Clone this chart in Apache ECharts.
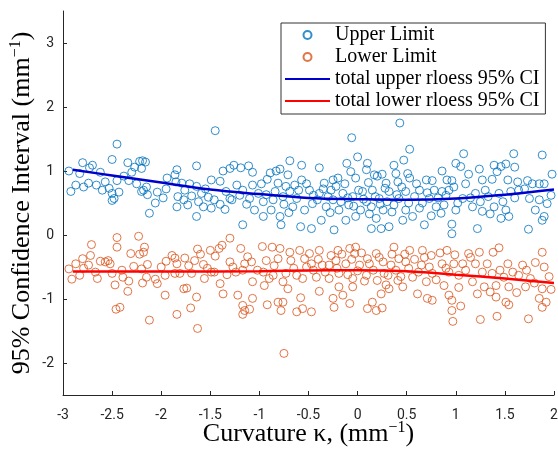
<!DOCTYPE html>
<html>
<head>
<meta charset="utf-8">
<script src="https://cdn.jsdelivr.net/npm/echarts@6/dist/echarts.min.js"></script>
<style>html,body{margin:0;padding:0;background:#fff}#c{width:558px;height:449px}</style>
</head>
<body>
<div id="c"></div>
<script>
// ---- data ----
const xTicks = [-3, -2.5, -2, -1.5, -1, -0.5, 0, 0.5, 1, 1.5, 2];
const yTicks = [-2, -1, 0, 1, 2, 3];

const upperLimit = [
  [-2.45,1.42],[-2.50,1.18],[-2.94,1.00],[-2.80,1.13],[-2.70,1.09],[-2.73,1.05],[-2.62,0.98],[-2.83,0.96],
  [-2.92,0.68],[-2.79,0.75],[-2.74,0.81],[-2.66,0.78],[-2.57,0.83],[-2.53,0.73],[-2.50,0.65],[-2.48,0.57],
  [-2.50,0.54],[-2.43,0.67],[-2.45,0.85],[-2.38,0.92],[-2.33,0.85],[-2.34,1.13],[-2.30,0.98],[-2.27,1.06],
  [-2.22,1.15],[-2.19,1.16],[-2.16,1.14],[-2.20,1.04],[-2.18,0.70],[-2.15,0.75],[-2.20,0.68],[-2.14,0.63],
  [-2.06,0.50],[-2.12,0.34],[-2.04,0.67],[-1.94,0.89],[-1.95,0.72],[-1.86,0.94],[-1.84,1.02],[-1.85,0.83],
  [-1.83,0.60],[-1.84,0.44],[-1.79,0.81],[-1.77,0.55],
  [-1.45,1.63],[-1.64,1.08],[-1.37,1.00],[-1.30,1.04],[-1.26,1.09],[-1.19,1.05],[-1.11,1.08],[-1.07,0.98],
  [-1.49,0.86],[-1.40,0.84],[-1.71,0.80],[-1.64,0.76],[-1.76,0.70],[-1.69,0.61],[-1.73,0.47],[-1.64,0.29],
  [-1.59,0.65],[-1.57,0.44],[-1.49,0.42],[-1.46,0.55],[-1.40,0.48],[-1.34,0.68],[-1.30,0.57],[-1.23,0.78],
  [-1.17,0.70],[-1.17,0.16],[-1.10,0.57],[-1.07,0.78],[-1.05,0.39],[-0.96,0.52],[-0.96,0.29],[-0.92,0.87],
  [-0.89,0.97],[-0.83,1.00],[-0.79,1.03],[-0.81,0.81],[-0.84,0.68],[-0.88,0.39],[-0.79,0.29],[-0.78,0.16],
  [-0.73,0.76],[-0.69,0.68],[-0.69,1.16],[-0.71,0.94],[-0.62,0.57],[-0.66,0.44],[-0.58,0.13],[-0.57,1.09],
  [-0.57,0.86],[-0.54,0.39],[-0.64,0.78],[-0.76,0.60],[-0.93,0.63],[-1.01,0.65],[-1.28,0.55],[-1.52,0.59],
  [0.43,1.75],[-0.06,1.52],[0.53,1.34],[0.00,1.22],[-0.11,1.12],[-0.39,1.05],[0.10,1.12],[0.09,1.02],
  [0.37,1.09],[0.47,1.17],[0.39,0.96],[0.51,0.96],[0.53,0.89],[0.17,0.94],[0.20,0.92],[0.25,0.95],
  [-0.07,0.99],[-0.02,0.89],[-0.20,0.89],[-0.25,0.86],[-0.34,0.81],[0.29,0.81],[0.41,0.83],[0.70,0.86],
  [-0.49,0.70],[-0.39,0.65],[-0.27,0.70],[-0.15,0.65],[0.05,0.68],[0.15,0.70],[0.32,0.68],[0.49,0.68],
  [0.63,0.70],[-0.46,0.49],[-0.32,0.44],[-0.19,0.39],[-0.09,0.47],[0.03,0.39],[0.14,0.44],[0.26,0.39],
  [0.37,0.47],[0.49,0.39],[0.63,0.42],[-0.47,0.10],[-0.24,0.08],[-0.37,0.23],[-0.12,0.23],[0.14,0.10],
  [0.24,0.10],[0.32,0.13],[0.46,0.23],[0.68,0.16],[-0.02,0.29],[0.19,0.26],[0.56,0.29],[-0.05,0.60],
  [-0.25,0.55],[0.22,0.57],[0.42,0.57],[0.73,0.57],[0.09,0.52],
  [1.08,1.27],[1.59,1.27],[1.88,1.25],[1.00,1.12],[1.05,1.07],[0.86,1.00],[1.13,0.95],[1.24,1.03],
  [1.39,1.09],[1.46,1.07],[1.51,1.11],[1.60,1.06],[1.42,0.99],[0.76,0.85],[0.91,0.86],[0.96,0.85],
  [1.27,0.86],[1.37,0.87],[1.53,0.86],[1.63,0.83],[1.73,0.85],[1.85,0.80],[1.90,0.80],[0.78,0.70],
  [0.86,0.68],[0.93,0.70],[1.07,0.57],[1.20,0.65],[1.30,0.70],[1.44,0.65],[1.56,0.68],[1.64,0.70],
  [1.75,0.57],[1.85,0.55],[1.93,0.49],[0.80,0.44],[0.88,0.47],[1.00,0.39],[1.17,0.44],[1.27,0.37],
  [1.39,0.44],[1.51,0.39],[1.54,0.29],[1.46,0.26],[1.35,0.33],[1.90,0.29],[1.88,0.23],[0.96,0.17],
  [0.96,0.02],[1.22,0.10],[1.74,0.09],[0.85,0.34],[1.81,0.39],
  [-0.45,0.62],[-0.41,0.55],[-0.35,0.72],[-0.30,0.60],[-0.28,0.35],[-0.22,0.76],[-0.17,0.52],[-0.13,0.80],
  [-0.10,0.58],[-0.04,0.45],[0.01,0.70],[0.06,0.56],[0.11,0.82],[0.12,0.33],[0.18,0.60],[0.23,0.48],
  [0.28,0.73],[0.30,0.52],[0.35,0.36],[0.40,0.63],[0.45,0.75],[0.52,0.50],[0.58,0.60],[0.60,0.80],
  [0.66,0.50],[0.71,0.66],[0.75,0.30],[0.82,0.58],[0.90,0.62],[0.98,0.75],[1.02,0.50],[1.10,0.80],
  [1.15,0.58],[1.25,0.52],[1.33,0.60],[1.48,0.52],[1.60,0.58],[1.70,0.72],[1.78,0.80],[1.97,0.62],
  [1.98,0.95],[-0.75,0.48],[-0.70,0.35],[-0.60,0.70],[-0.52,0.80],[-0.86,0.55],[-0.98,0.80],[-1.13,0.48],
  [-1.20,0.62],[-1.35,0.40],[-1.55,0.72],[-1.62,0.52],[-1.98,0.58],[-2.25,0.80],[-2.60,0.70],[-2.87,0.78]
];

const lowerLimit = [
  [-2.45,-0.04],[-2.23,-0.02],[-2.71,-0.15],[-2.45,-0.19],[-2.17,-0.19],[-2.18,-0.27],[-2.22,-0.30],[-2.31,-0.29],
  [-2.72,-0.32],[-2.80,-0.37],[-2.62,-0.41],[-2.54,-0.40],[-2.52,-0.45],[-2.57,-0.42],[-2.74,-0.47],[-2.79,-0.52],
  [-2.94,-0.53],[-2.91,-0.69],[-2.83,-0.63],[-2.67,-0.58],[-2.50,-0.60],[-2.47,-0.78],[-2.39,-0.66],[-2.33,-0.72],
  [-2.34,-0.88],[-2.28,-0.49],[-2.20,-0.53],[-2.14,-0.46],[-2.19,-0.75],[-2.15,-0.66],[-2.06,-0.69],[-2.04,-0.76],
  [-1.96,-0.63],[-1.95,-0.41],[-1.96,-0.94],[-1.86,-0.36],[-1.84,-0.45],[-1.86,-0.60],[-1.81,-0.60],[-1.77,-0.84],
  [-2.12,-1.33],[-2.46,-1.16],[-2.42,-1.13],[-1.84,-1.24],[-1.89,-0.32],
  [-1.30,-0.05],[-1.38,-0.16],[-1.41,-0.21],[-1.63,-0.22],[-1.50,-0.24],[-1.45,-0.33],[-1.19,-0.21],[-0.97,-0.18],
  [-0.87,-0.19],[-0.79,-0.21],[-0.69,-0.27],[-0.59,-0.24],[-1.76,-0.36],[-1.66,-0.40],[-1.57,-0.46],[-1.30,-0.42],
  [-1.12,-0.34],[-1.08,-0.42],[-0.93,-0.40],[-0.81,-0.37],[-0.68,-0.40],[-0.54,-0.37],[-1.69,-0.60],[-1.56,-0.68],
  [-1.46,-0.58],[-1.40,-0.76],[-1.27,-0.50],[-1.24,-0.58],[-1.17,-0.55],[-1.07,-0.73],[-0.96,-0.58],[-0.95,-0.79],
  [-0.86,-0.63],[-0.76,-0.73],[-0.71,-0.84],[-0.62,-0.63],[-0.56,-0.68],[-1.74,-0.83],[-1.64,-0.97],[-1.70,-1.14],
  [-1.63,-1.46],[-1.37,-0.92],[-1.22,-0.94],[-1.07,-0.99],[-1.17,-1.10],[-1.15,-1.18],[-1.17,-1.24],[-1.10,-1.16],
  [-0.92,-1.09],[-0.81,-1.05],[-0.78,-1.18],[-0.76,-1.05],[-0.58,-0.98],[-0.62,-1.20],[-0.56,-1.15],[-0.75,-1.85],
  [-1.49,-0.58],
  [-0.39,-0.24],[-0.20,-0.24],[-0.08,-0.21],[-0.02,-0.19],[-0.03,-0.29],[0.10,-0.37],[0.19,-0.29],[0.37,-0.19],
  [0.42,-0.37],[0.53,-0.24],[0.66,-0.24],[-0.47,-0.45],[-0.36,-0.47],[-0.22,-0.40],[-0.12,-0.45],[0.02,-0.47],
  [0.26,-0.42],[0.34,-0.47],[0.49,-0.42],[0.65,-0.47],[-0.42,-0.66],[-0.29,-0.68],[-0.19,-0.60],[-0.05,-0.68],
  [0.09,-0.63],[0.20,-0.71],[0.31,-0.63],[0.41,-0.71],[0.56,-0.66],[0.70,-0.73],[-0.39,-0.88],[-0.19,-0.81],
  [-0.15,-0.94],[-0.05,-0.81],[0.24,-0.92],[0.32,-0.84],[0.46,-0.81],[0.61,-0.92],[0.71,-0.99],[-0.25,-0.99],
  [-0.24,-1.13],[-0.08,-1.07],[-0.47,-1.20],[0.10,-1.15],[0.19,-1.18],[0.25,-1.14],[0.15,-1.05],[-0.49,-0.29],
  [-0.29,-0.47],
  [0.91,-0.24],[0.99,-0.31],[1.13,-0.29],[1.24,-0.27],[1.38,-0.27],[1.44,-0.20],[1.88,-0.27],[0.75,-0.32],
  [0.86,-0.45],[1.07,-0.45],[1.20,-0.45],[1.53,-0.45],[1.68,-0.47],[1.81,-0.43],[1.90,-0.50],[0.76,-0.60],
  [0.93,-0.58],[1.03,-0.63],[1.27,-0.58],[1.37,-0.60],[1.49,-0.66],[1.64,-0.63],[1.76,-0.68],[0.88,-0.79],
  [1.17,-0.73],[1.29,-0.81],[1.41,-0.79],[1.54,-0.81],[1.71,-0.81],[1.88,-0.84],[0.93,-0.94],[1.22,-0.92],
  [1.35,-0.89],[1.41,-0.97],[1.85,-0.99],[0.76,-1.02],[0.96,-1.02],[1.05,-1.11],[1.51,-1.05],[1.54,-1.09],
  [1.92,-1.05],[1.88,-1.13],[0.96,-1.18],[0.97,-1.35],[1.25,-1.32],[1.42,-1.27],[1.74,-1.31],
  [-0.45,-0.55],[-0.40,-0.38],[-0.33,-0.58],[-0.27,-0.32],[-0.21,-0.52],[-0.16,-0.30],[-0.10,-0.62],[-0.06,-0.38],
  [0.00,-0.56],[0.04,-0.28],[0.07,-0.72],[0.12,-0.45],[0.16,-0.55],[0.22,-0.35],[0.27,-0.60],[0.29,-0.78],
  [0.35,-0.30],[0.39,-0.55],[0.44,-0.65],[0.48,-0.30],[0.52,-0.52],[0.58,-0.38],[0.62,-0.58],[0.68,-0.35],
  [0.73,-0.50],[0.80,-0.70],[0.84,-0.28],[0.90,-0.52],[0.98,-0.45],[1.03,-0.82],[1.10,-0.55],[1.15,-0.35],
  [1.32,-0.45],[1.45,-0.55],[1.58,-0.58],[1.62,-0.90],[1.72,-0.55],[1.80,-0.75],[1.95,-0.65],[1.97,-0.85],
  [-0.52,-0.50],[-0.65,-0.52],[-0.73,-0.60],[-0.85,-0.48],[-0.90,-0.68],[-1.02,-0.55],[-1.15,-0.45],[-1.33,-0.62],
  [-1.53,-0.52],[-1.60,-0.30],[-1.72,-0.48],[-2.00,-0.50],[-2.40,-0.55],[-2.65,-0.68],[-2.87,-0.45]
];

const upperFit = [[-2.9,1.02],[-2.5,0.93],[-2.0,0.82],[-1.5,0.71],[-1.0,0.64],[-0.5,0.58],[0,0.56],[0.5,0.55],[1.0,0.57],[1.5,0.63],[2.0,0.71]];
const lowerFit = [[-2.9,-0.57],[-2.0,-0.57],[-1.0,-0.565],[-0.5,-0.555],[0,-0.55],[0.5,-0.565],[0.75,-0.59],[1.0,-0.62],[1.5,-0.68],[2.0,-0.75]];

const names = ['Upper Limit','Lower Limit','total upper rloess 95% CI','total lower rloess 95% CI'];

const chart = echarts.init(document.getElementById('c'), null, {renderer:'canvas'});
const axisColor = '#262626';
const serif = '"Liberation Serif", "DejaVu Serif", serif';
const sans = 'Roboto, "Liberation Sans", Arial, sans-serif';
const noSymbol = {color: 'rgba(0,0,0,0)', borderWidth: 0, opacity: 0};

chart.setOption({
  animation: false,
  backgroundColor: '#fff',
  grid: {left: 63, right: 4, top: 11, bottom: 54, containLabel: false, outerBoundsMode: 'none'},
  legend: {
    orient: 'vertical', left: 281, top: 23,
    backgroundColor: '#fff', borderColor: '#333', borderWidth: 1,
    padding: [1, 6, 2, 3], itemGap: 0, itemWidth: 45, itemHeight: 8,
    textStyle: {fontFamily: serif, fontSize: 20, color: '#000', lineHeight: 22},
    data: [
      {name: names[0]}, {name: names[1]},
      {name: names[2], itemStyle: noSymbol},
      {name: names[3], itemStyle: noSymbol}
    ]
  },
  xAxis: {
    type: 'value', min: -3, max: 2, interval: 0.5,
    name: 'Curvature κ, (mm{sup|−1})', nameLocation: 'middle', nameGap: 25, nameMoveOverlap: false,
    nameTextStyle: {fontFamily: serif, fontSize: 26, color: '#000', lineHeight: 28,
      rich: {sup: {fontFamily: serif, fontSize: 16, verticalAlign: 'top', lineHeight: 12, color: '#000'}}},
    axisLine: {show: true, onZero: false, lineStyle: {color: axisColor, width: 1}},
    axisTick: {show: true, inside: true, length: 4, lineStyle: {color: axisColor}},
    axisLabel: {fontFamily: sans, fontSize: 14, color: axisColor, margin: 13,
      formatter: v => String(v)},
    splitLine: {show: false}
  },
  yAxis: {
    type: 'value', min: -2.5, max: 3.5,
    name: '95% Confidence Interval (mm{sup|−1})', nameLocation: 'middle', nameGap: 27, nameMoveOverlap: false,
    nameTextStyle: {fontFamily: serif, fontSize: 26, color: '#000', lineHeight: 28,
      rich: {sup: {fontFamily: serif, fontSize: 16, verticalAlign: 'top', lineHeight: 12, color: '#000'}}},
    axisLine: {show: true, onZero: false, lineStyle: {color: axisColor, width: 1}},
    axisTick: {show: true, inside: true, length: 4, lineStyle: {color: axisColor}, customValues: yTicks},
    axisLabel: {fontFamily: sans, fontSize: 14, color: axisColor, margin: 9, customValues: yTicks,
      formatter: v => String(v)},
    splitLine: {show: false}
  },
  series: [
    {name: names[0], type: 'scatter', data: upperLimit, symbol: 'circle', symbolSize: 8, z: 2,
      itemStyle: {color: 'rgba(0,0,0,0)', borderColor: '#0072BD', borderWidth: 1}},
    {name: names[1], type: 'scatter', data: lowerLimit, symbol: 'circle', symbolSize: 8, z: 2,
      itemStyle: {color: 'rgba(0,0,0,0)', borderColor: '#D95319', borderWidth: 1}},
    {name: names[2], type: 'line', data: upperFit, smooth: 0.4, showSymbol: false, symbol: 'none', z: 3,
      lineStyle: {color: '#0000CD', width: 2.5}, itemStyle: {color: '#0000CD'}},
    {name: names[3], type: 'line', data: lowerFit, smooth: 0.4, showSymbol: false, symbol: 'none', z: 3,
      lineStyle: {color: '#FF0000', width: 2.5}, itemStyle: {color: '#FF0000'}}
  ]
});
</script>
</body>
</html>
